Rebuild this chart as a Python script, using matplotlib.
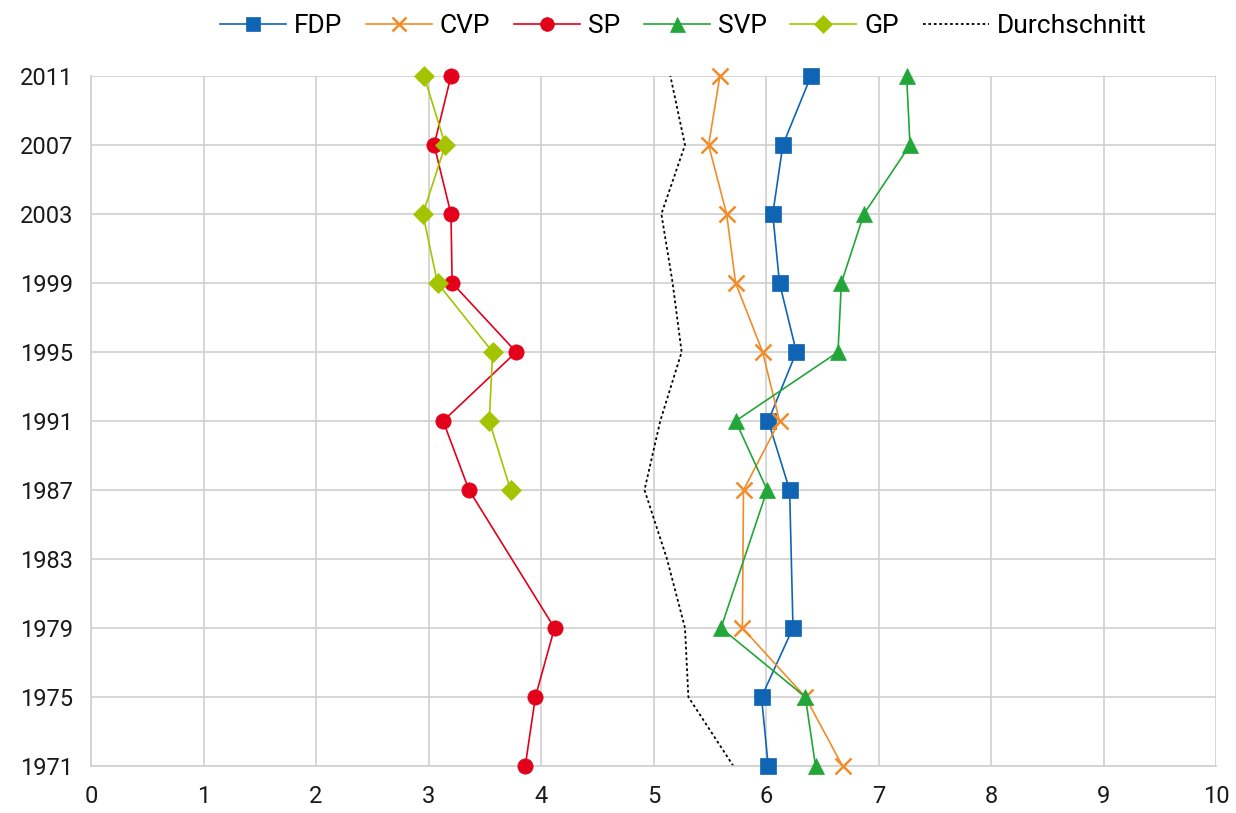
import numpy as np
import matplotlib
matplotlib.use("Agg")
import matplotlib.pyplot as plt

plt.rcParams["font.family"] = ["Roboto", "DejaVu Sans"]

# data, bottom (1971) to top (2011)
years = ["1971", "1975", "1979", "1983", "1987", "1991", "1995", "1999", "2003", "2007", "2011"]
fdp = [6.02, 5.96, 6.24, None, 6.21, 6.02, 6.27, 6.12, 6.06, 6.15, 6.40]
cvp = [6.68, 6.35, 5.79, None, 5.80, 6.12, 5.97, 5.73, 5.65, 5.49, 5.59]
sp = [3.86, 3.95, 4.12, None, 3.36, 3.13, 3.78, 3.21, 3.20, 3.05, 3.20]
svp = [6.44, 6.35, 5.60, None, 6.01, 5.73, 6.64, 6.67, 6.87, 7.28, 7.25]
gp = [None, None, None, None, 3.73, 3.54, 3.57, 3.08, 2.95, 3.15, 2.96]
avg = [5.71, 5.31, 5.28, 5.12, 4.92, 5.06, 5.25, 5.17, 5.07, 5.28, 5.15]

series = [
    ("FDP", fdp, "#0F64B4", "s", 11),
    ("CVP", cvp, "#F28C28", "x", 11),
    ("SP", sp, "#E3001B", "o", 11),
    ("SVP", svp, "#22A638", "^", 12),
    ("GP", gp, "#A5C400", "D", 10),
]

fig = plt.figure(figsize=(12.36, 8.13), dpi=100)
ax = fig.add_axes([91/1236, 1-766/813, 1125/1236, 690/813])

pos = np.arange(len(years))
for name, vals, col, mk, ms in series:
    v = np.array([np.nan if x is None else x for x in vals], dtype=float)
    ok = ~np.isnan(v)
    ax.plot(v[ok], pos[ok], "-", color=col, linewidth=1.2, marker=mk,
            markersize=ms, markeredgewidth=1.8 if mk == "x" else 0.5,
            markeredgecolor=col, label=name, clip_on=False, zorder=3)

ax.plot(avg, pos, color="black", linestyle=(0, (1.5, 1.5)), linewidth=1.3,
        label="Durchschnitt", zorder=2)

ax.set_xlim(0, 10)
ax.set_ylim(0, len(years)-1)
ax.set_xticks(np.arange(0, 11))
ax.set_yticks(pos)
ax.set_yticklabels(years)
ax.tick_params(length=0, labelsize=17, colors="#1a1a1a")
ax.tick_params(axis="y", pad=13)
ax.tick_params(axis="x", pad=14)
ax.grid(True, color="#d0d0d0", linewidth=1.2)
ax.set_axisbelow(True)
for s in ["top", "right"]:
    ax.spines[s].set_visible(False)
for s in ["left", "bottom"]:
    ax.spines[s].set_color("#d0d0d0")
    ax.spines[s].set_linewidth(1.2)

fig.legend(loc="upper center", bbox_to_anchor=(0.5526, 1.012), ncol=6, frameon=False,
           fontsize=19, handlelength=2.5, handletextpad=0.3, columnspacing=0.9,
           markerscale=0.9)

fig.savefig("out.png", dpi=100)
